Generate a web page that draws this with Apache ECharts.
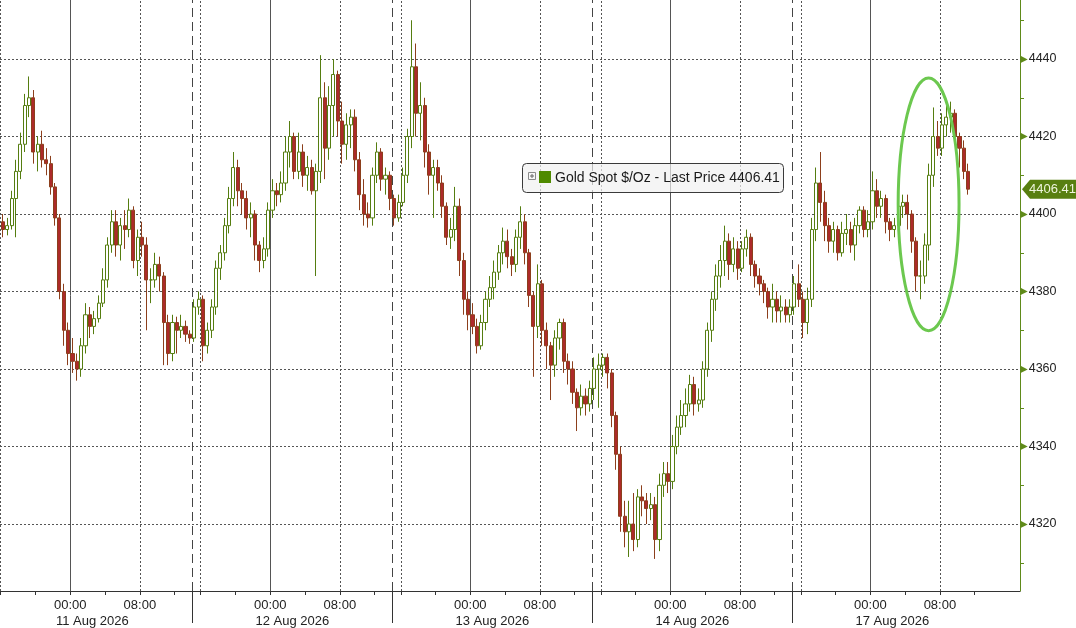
<!DOCTYPE html>
<html>
<head>
<meta charset="utf-8">
<script src="https://cdn.jsdelivr.net/npm/echarts@6/dist/echarts.min.js"></script>
<style>
html,body{margin:0;padding:0;background:#ffffff;}
#chart{width:1076px;height:628px;}
</style>
</head>
<body>
<div id="chart"></div>
<script>
// ---- time axis: trading hours counted from 11 Aug 2026 00:00 (session breaks removed) ----
const firstHour = -8;      // first bar starts 16:00, 10 Aug 2026
const stepHours = 0.5;     // 30-minute bars

// ---- series values (Gold Spot $/Oz, 30-minute bars) ----
const opens = [
4398,4396,4397,4404,4411,4418,4428,4430,4416,4418,
4414,4413,4407,4399,4380,4370,4364,4362,4360,4366,
4374,4371,4373,4377,4383,4392,4398,4392,4397,4396,
4401,4388,4394,4392,4383,4383,4387,4384,4372,4364,
4372,4370,4371,4369,4368,4376,4378,4366,4370,4376,
4386,4390,4397,4404,4412,4406,4404,4399,4400,4392,
4388,4391,4401,4406,4405,4408,4416,4420,4411,4416,
4410,4412,4406,4411,4430,4417,4428,4436,4424,4418,
4423,4425,4414,4405,4400,4399,4410,4416,4409,4410,
4404,4399,4403,4410,4420,4438,4426,4428,4416,4410,
4412,4408,4402,4394,4396,4402,4388,4378,4374,4371,
4366,4372,4378,4381,4385,4390,4393,4389,4387,4394,
4398,4390,4379,4371,4382,4370,4366,4361,4368,4372,
4362,4360,4354,4350,4353,4351,4355,4360,4361,4363,
4359,4348,4338,4322,4318,4320,4316,4327,4326,4324,
4325,4316,4330,4333,4331,4340,4345,4348,4351,4356,
4351,4352,4360,4370,4378,4384,4388,4393,4387,4391,
4386,4391,4394,4387,4384,4382,4380,4376,4378,4375,
4376,4374,4376,4382,4378,4372,4378,4396,4408,4403,
4397,4393,4396,4390,4395,4396,4392,4397,4401,4396,
4398,4406,4402,4404,4398,4396,4397,4402,4403,4400,
4393,4384,4384,4392,4410,4420,4417,4423,4425,4426,
4420,4417,4411];
const closes = [
4396,4397,4404,4411,4418,4428,4430,4416,4418,4414,
4413,4407,4399,4380,4370,4364,4362,4360,4366,4374,
4371,4373,4377,4383,4392,4398,4392,4397,4396,4401,
4388,4394,4392,4383,4383,4387,4384,4372,4364,4372,
4370,4371,4369,4368,4376,4378,4366,4370,4376,4386,
4390,4397,4404,4412,4406,4404,4399,4400,4392,4388,
4391,4401,4406,4405,4408,4416,4420,4411,4416,4410,
4412,4406,4411,4430,4417,4428,4436,4424,4418,4423,
4425,4414,4405,4400,4399,4410,4416,4409,4410,4404,
4399,4403,4410,4420,4438,4426,4428,4416,4410,4412,
4408,4402,4394,4396,4402,4388,4378,4374,4371,4366,
4372,4378,4381,4385,4390,4393,4389,4387,4394,4398,
4390,4379,4371,4382,4370,4366,4361,4368,4372,4362,
4360,4354,4350,4353,4351,4355,4360,4361,4363,4359,
4348,4338,4322,4318,4320,4316,4327,4326,4324,4325,
4316,4330,4333,4331,4340,4345,4348,4351,4356,4351,
4352,4360,4370,4378,4384,4388,4393,4387,4391,4386,
4391,4394,4387,4384,4382,4380,4376,4378,4375,4376,
4374,4376,4382,4378,4372,4378,4396,4408,4403,4397,
4393,4396,4390,4395,4396,4392,4397,4401,4396,4398,
4406,4402,4404,4398,4396,4397,4402,4403,4400,4393,
4384,4384,4392,4410,4420,4417,4423,4425,4426,4420,
4417,4411,4406.41];
const lows = [
4394,4394.5,4396,4394,4409,4416,4425,4413,4411,4412,
4410,4405,4397,4378,4366,4361,4359,4357,4358,4364,
4368,4369,4372,4376,4381,4390,4389,4388,4391,4394,
4386,4384,4389,4370,4377,4381,4380,4361,4361,4362,
4364,4368,4367,4366.5,4367,4374,4362,4364,4368,4374,
4383,4388,4395,4402,4402,4400,4396,4394,4388,4385,
4386,4389,4399,4402,4403,4406,4412,4409,4409,4407,
4406,4405,4384,4408,4409,4414,4420,4420,4413,4414,
4417,4411,4401,4397,4396.5,4397,4408,4406,4405,4401,
4397,4398,4402,4408,4417,4420,4419,4412,4405,4399,
4406,4399,4392,4391,4393,4384,4374,4370,4369,4364,
4365,4370,4376,4378,4383,4387,4386,4384,4385,4391,
4387,4376,4358,4368,4366,4360,4352,4358,4365,4359,
4356,4351,4344,4348,4348,4349,4352,4350,4358,4355,
4345,4334,4318,4314,4311.5,4313,4314,4322,4320,4321,
4311,4313,4327,4328,4329,4338,4343,4345,4349,4348,
4349,4350,4358,4367,4375,4381,4384,4383,4385,4383,
4385,4389,4384,4381,4379,4377,4373,4372,4372,4372,
4372,4372,4374,4376,4368,4369,4376,4393,4398,4393,
4390,4390,4388,4389,4392,4390,4388,4395,4394,4394,
4396,4399,4399,4395,4393,4394,4395,4399,4396,4390,
4380,4378,4382,4388,4407,4415,4415,4420,4421,4418,
4412,4409,4405];
const highs = [
4400,4399,4406,4414,4421,4431,4435.5,4432,4420,4421.5,
4417,4415,4408,4400,4382,4372,4368,4364,4368,4377,
4376,4375,4379,4386,4394,4401,4401,4399,4401,4404,
4402,4396,4398,4394,4386,4390,4389,4385,4374,4374,
4373.5,4374,4372.5,4370,4378,4380,4379,4372,4378,4388,
4392,4399,4407,4416,4414,4408,4406,4403,4401,4393,
4394,4403,4409,4408,4411,4420,4424,4421,4421,4418,
4415,4414,4413,4441,4434,4433,4440,4437,4429,4426,
4427,4427,4416,4409,4403,4412,4418.5,4417,4412,4411,
4405,4405,4412,4422,4450,4444,4434,4430,4418,4414,
4414,4410,4403,4399,4407,4404,4390,4380,4377,4373,
4374,4380,4384,4388,4392,4396.5,4396,4391,4396,4402,
4400,4391,4380,4387,4383,4372,4367,4370,4373,4373,
4364,4362,4355,4356,4355,4357,4363,4364,4364,4364,
4360,4349,4340,4326,4326,4328,4329,4330,4328,4328,
4327,4333,4336,4336,4343,4348,4352,4355,4358.5,4358,
4355,4362,4372,4380,4387,4392,4397,4395,4394,4393,
4393,4396,4395,4388,4386,4383,4381,4382,4380,4379,
4378,4378,4384,4387,4380,4381,4399,4412,4416,4406,
4399,4398,4397,4398,4400,4398,4399,4402,4402,4401,
4411,4409,4406,4405,4399,4399,4404,4405,4405,4401,
4394,4388,4395,4413,4427.5,4424,4426,4428,4429,4427,
4421,4419,4413];

const seriesName = 'Gold Spot $/Oz';
const lastPrice = 4406.41;

// ---- x axis labels / lines (trading hours) ----
const labelHours = [0, 8, 23, 31, 46, 54, 69, 77, 92, 100];
const timeLabels = ['00:00','08:00','00:00','08:00','00:00','08:00','00:00','08:00','00:00','08:00'];
const midnightHours = [0, 23, 46, 69, 92];
const dateLabels = ['11 Aug 2026', '12 Aug 2026', '13 Aug 2026', '14 Aug 2026', '17 Aug 2026'];
const dottedHours = [-8, 8, 15, 31, 38, 54, 61, 77, 84, 100];
const sessionBreakHours = [14, 37, 60, 83];
const tickHours = [-8,-4,0,4,8,12,15,19,23,27,31,35,38,42,46,50,54,58,61,65,69,73,77,81,84,88,92,96,100,104];

// ---- y axis ----
const priceLabels = [4320, 4340, 4360, 4380, 4400, 4420, 4440];
const priceMinorTicks = [4310, 4330, 4350, 4370, 4390, 4410, 4430, 4450];

const xMin = -8.084, xMax = 109.21;
const yMin = 4302.72, yMax = 4455.23;

const candleData = opens.map((o, i) => [firstHour + stepHours * (i + 0.5), o, closes[i], lows[i], highs[i]]);

const FONT = 'Liberation Sans';
const OLIVE = '#5f8a1a';
const GRIDC = '#555555';

const markLineData = [];
priceLabels.forEach(v => markLineData.push({yAxis: v, lineStyle: {type: [2, 2], color: GRIDC, width: 1}}));
midnightHours.forEach(v => markLineData.push({xAxis: v, lineStyle: {type: 'solid', color: '#555', width: 1}}));
dottedHours.forEach(v => markLineData.push({xAxis: v, lineStyle: {type: [2, 2], color: GRIDC, width: 1}}));
sessionBreakHours.forEach(v => markLineData.push({xAxis: v, lineStyle: {type: [9, 5], color: '#444', width: 1}}));

const chart = echarts.init(document.getElementById('chart'), null, {renderer: 'canvas'});

const option = {
  animation: false,
  backgroundColor: '#ffffff',
  textStyle: {fontFamily: FONT},
  grid: {left: 0, right: 56, top: 0, bottom: 32, containLabel: false},
  xAxis: [{
    type: 'value', min: xMin, max: xMax,
    splitLine: {show: false},
    axisLine: {show: true, onZero: false, lineStyle: {color: '#333', width: 1}},
    axisTick: {show: true, customValues: tickHours, length: 4, lineStyle: {color: '#333'}},
    axisLabel: {
      show: true, customValues: labelHours, margin: 8,
      showMinLabel: true, showMaxLabel: true, hideOverlap: false,
      fontFamily: FONT, fontSize: 13, color: '#222',
      formatter: v => timeLabels[labelHours.indexOf(v)] || ''
    }
  }, {
    type: 'value', min: xMin, max: xMax, position: 'bottom',
    splitLine: {show: false},
    axisLine: {show: false, onZero: false},
    axisTick: {show: true, customValues: sessionBreakHours, length: 32, lineStyle: {color: '#333'}},
    axisLabel: {
      show: true, customValues: midnightHours, margin: 24,
      showMinLabel: true, showMaxLabel: true, hideOverlap: false,
      fontFamily: FONT, fontSize: 13, color: '#222',
      padding: [0, 0, 0, 44],
      formatter: v => dateLabels[midnightHours.indexOf(v)] || ''
    }
  }],
  yAxis: {
    type: 'value', position: 'right', min: yMin, max: yMax, scale: true,
    splitLine: {show: false},
    axisLine: {show: true, onZero: false, lineStyle: {color: OLIVE, width: 1}},
    axisTick: {show: true, customValues: priceMinorTicks, length: 4, lineStyle: {color: OLIVE}},
    axisLabel: {
      show: true, customValues: priceLabels, margin: 0,
      formatter: v => '{a|\u25B6}{b|' + v + '}',
      rich: {
        a: {color: OLIVE, fontSize: 10, fontFamily: 'DejaVu Sans', padding: [0, 1, 0, 0]},
        b: {color: '#222', fontSize: 12.5, fontFamily: FONT}
      }
    }
  },
  series: [{
    name: seriesName,
    type: 'candlestick',
    data: candleData,
    encode: {x: 0, y: [1, 2, 3, 4]},
    barWidth: 3.6,
    z: 3,
    itemStyle: {
      color: '#ffffff',
      color0: '#ad2a2a',
      borderColor: '#557d10',
      borderColor0: '#8c3f1c',
      borderWidth: 1
    },
    markLine: {
      silent: true, z: 1, animation: false,
      symbol: ['none', 'none'],
      label: {show: false},
      emphasis: {disabled: true},
      data: markLineData
    }
  }]
};

chart.setOption(option);

// overlays positioned through the chart's own scales
const rightX = chart.convertToPixel({xAxisIndex: 0}, xMax);
const lastY = chart.convertToPixel({yAxisIndex: 0}, lastPrice);
const ellC = chart.convertToPixel({xAxisIndex: 0, yAxisIndex: 0}, [98.7, 4402.5]);
const ellRx = chart.convertToPixel({xAxisIndex: 0}, 98.7 + 3.5) - ellC[0];
const ellRy = chart.convertToPixel({yAxisIndex: 0}, 4402.5 - 32.6) - ellC[1];

chart.setOption({
  graphic: [
    {type: 'ellipse', shape: {cx: ellC[0], cy: ellC[1], rx: ellRx, ry: ellRy},
     style: {fill: null, stroke: '#6cc84f', lineWidth: 3}, z: 50, silent: true},
    {type: 'polygon', shape: {points: [[rightX + 2, lastY], [rightX + 10, lastY - 9.5], [1076, lastY - 9.5], [1076, lastY + 9.5], [rightX + 10, lastY + 9.5]]},
     style: {fill: '#587f10'}, z: 50, silent: true},
    {type: 'text', x: rightX + 9, y: lastY + 0.5, z: 51, silent: true,
     style: {text: lastPrice.toFixed(2), fill: '#eef5dc', font: '13px "Liberation Sans"', verticalAlign: 'middle', align: 'left'}},
    {type: 'rect', shape: {x: 522.5, y: 163.5, width: 261, height: 29, r: 4},
     style: {fill: 'rgba(241,241,241,0.7)', stroke: '#3a3a3a', lineWidth: 1}, z: 60, silent: true},
    {type: 'rect', shape: {x: 528.5, y: 172.5, width: 7, height: 7},
     style: {fill: '#f6f6f6', stroke: '#8a8a8a', lineWidth: 1}, z: 61, silent: true},
    {type: 'line', shape: {x1: 530, y1: 176, x2: 534, y2: 176}, style: {stroke: '#666', lineWidth: 1}, z: 62, silent: true},
    {type: 'line', shape: {x1: 532, y1: 174, x2: 532, y2: 178}, style: {stroke: '#666', lineWidth: 1}, z: 62, silent: true},
    {type: 'rect', shape: {x: 539, y: 171, width: 12, height: 12}, style: {fill: '#4f8a00'}, z: 61, silent: true},
    {type: 'text', x: 555, y: 178, z: 61, silent: true,
     style: {text: seriesName + ' - Last Price ' + lastPrice.toFixed(2), fill: '#1a1a1a', font: '14px "Liberation Sans"', verticalAlign: 'middle', align: 'left'}}
  ]
});
</script>
</body>
</html>
